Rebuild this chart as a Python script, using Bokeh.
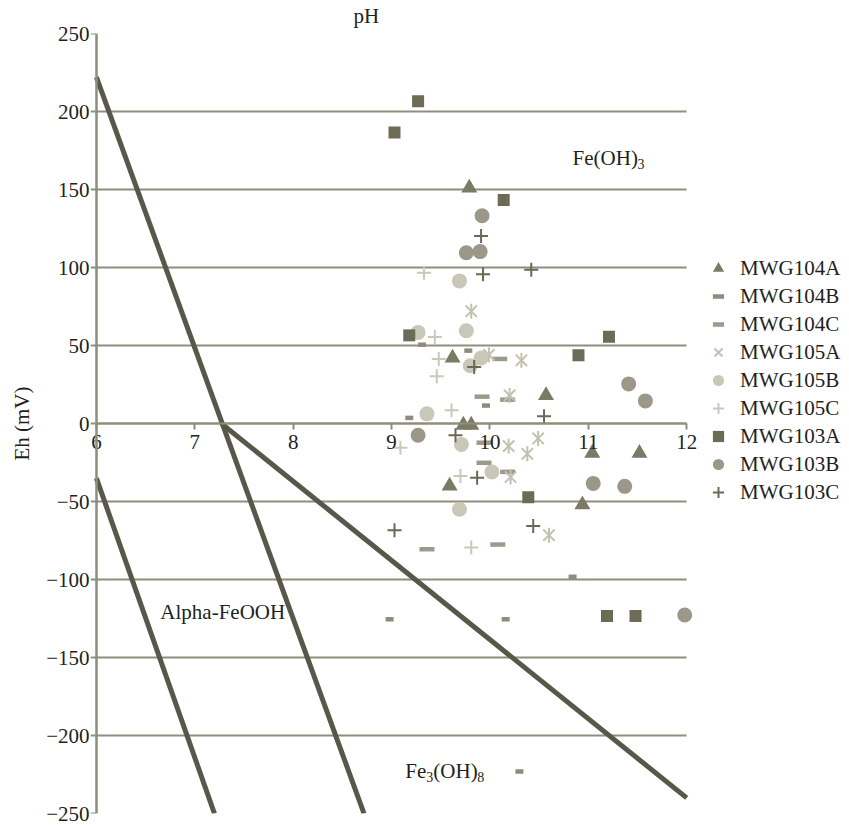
from bokeh.plotting import figure
from bokeh.models import (Range1d, LinearAxis, FixedTicker, CustomJSTickFormatter,
                          Legend, LegendItem)
from bokeh.core.properties import value
from bokeh.embed import file_html
from bokeh.resources import INLINE
import math

# ---------------- data ----------------
x_ticks = [6, 7, 8, 9, 10, 11, 12]
y_ticks = [-250, -200, -150, -100, -50, 0, 50, 100, 150, 200, 250]

# stability-field boundary lines (pH, Eh)
b1_ph = [6.0, 8.72]
b1_eh = [222, -250]
b2_ph = [7.27, 12.0]
b2_eh = [0, -240]
b3_ph = [6.0, 7.2]
b3_eh = [-35, -250]

mwg104a_ph = [9.79, 9.62, 10.57, 9.73, 9.81, 9.59, 10.94, 11.04, 11.52]
mwg104a_eh = [151, 42, 18, -1, -1, -40, -52, -19, -19]

mwg104b_ph = [9.18, 9.31, 9.78, 9.96, 8.98, 10.16, 10.84, 10.30]
mwg104b_eh = [3.6, 50.5, 46.7, 11.5, -125.5, -125.5, -98.3, -223]

mwg104c_ph = [10.10, 9.92, 10.18, 9.94, 9.94, 10.18, 9.36, 10.08]
mwg104c_eh = [41.4, 17.2, 15.3, -12.3, -25.2, -31, -80.6, -77.6]

mwg105a_ph = [9.81, 9.99, 10.32, 10.20, 10.19, 10.49, 10.38, 10.21, 10.60]
mwg105a_eh = [72, 44, 40.5, 18, -14.5, -9.6, -19.4, -34.3, -71.6]

mwg105b_ph = [9.69, 9.27, 9.76, 9.91, 9.80, 9.36, 9.71, 10.02, 9.69]
mwg105b_eh = [91.4, 58.4, 59.5, 42, 37, 6.2, -13.4, -31.1, -55]

mwg105c_ph = [9.33, 9.44, 9.48, 9.46, 9.61, 9.09, 9.70, 9.81]
mwg105c_eh = [96.7, 55.4, 41.4, 30.3, 8.5, -15.6, -33.7, -79.5]

mwg103a_ph = [9.03, 9.27, 10.14, 9.18, 10.90, 11.21, 10.39, 11.19, 11.48]
mwg103a_eh = [186.5, 206.5, 143.2, 56.5, 43.7, 55.6, -47.3, -123.4, -123.4]

mwg103b_ph = [9.92, 9.76, 9.90, 9.27, 11.05, 11.37, 11.98, 11.41, 11.58]
mwg103b_eh = [133.2, 109.5, 110.2, -7.5, -38.4, -40.3, -122.8, 25.4, 14.5]

mwg103c_ph = [9.91, 9.93, 10.42, 9.84, 10.55, 9.65, 9.87, 9.03, 10.44]
mwg103c_eh = [120.2, 95.7, 98.5, 36.2, 4.7, -7.5, -34.7, -68.4, -65.7]

# field labels
lab_x = [10.84, 6.65, 9.14, 9.14]
lab_y = [170, -121, -223, -223]
lab_text = ["Fe(OH)", "Alpha-FeOOH", "Fe", "(OH)"]
sub_x = [10.84, 9.14, 9.14]
sub_y = [170, -223, -223]
sub_text = ["3", "3", "8"]

# ---------------- styling ----------------
FONT = "Liberation Serif"
TXT = "#231f20"
GRID = "#8f8d7b"
LINE = "#58584a"
FS = "21px"

# view extent: a little room beyond pH 6..12 so the end tick labels are not clipped
p = figure(frame_width=608, frame_height=780,
           x_range=Range1d(5.94, 12.12), y_range=Range1d(-250, 250),
           x_axis_location=None, y_axis_location="left",
           output_backend="svg", toolbar_location=None,
           min_border_left=90, min_border_right=151,
           min_border_top=33, min_border_bottom=12,
           title="pH")
p.outline_line_color = None
p.background_fill_color = "white"
p.border_fill_color = "white"

p.title.text_font = FONT
p.title.text_font_size = FS
p.title.text_font_style = "normal"
p.title.text_color = TXT
p.title.align = "left"
p.title.offset = 263
p.title.standoff = 7
p.title.vertical_align = "top"

# y axis tick labels (at the frame edge)
ya = p.yaxis[0]
ya.ticker = FixedTicker(ticks=y_ticks)
ya.formatter = CustomJSTickFormatter(code="return tick < 0 ? '\\u2212' + Math.abs(tick) : String(tick);")
ya.axis_label = "Eh (mV)"
ya.axis_label_text_font = FONT
ya.axis_label_text_font_size = FS
ya.axis_label_text_font_style = "normal"
ya.axis_label_text_color = TXT
ya.axis_label_standoff = 9
ya.major_label_text_font = FONT
ya.major_label_text_font_size = FS
ya.major_label_text_color = TXT
ya.major_label_standoff = 1
ya.major_tick_out = 0
ya.major_tick_in = 0
ya.minor_tick_out = 0
ya.minor_tick_in = 0
ya.axis_line_color = None
ya.major_tick_line_color = None

# y axis line at pH 6 with outward ticks
ya2 = LinearAxis(fixed_location=x_ticks[0], ticker=FixedTicker(ticks=y_ticks),
                 formatter=CustomJSTickFormatter(code="return '';"))
ya2.major_tick_out = 6
ya2.major_tick_in = 0
ya2.minor_tick_out = 0
ya2.minor_tick_in = 0
ya2.axis_line_color = GRID
ya2.axis_line_width = 2.5
ya2.major_tick_line_color = GRID
ya2.major_tick_line_width = 2
p.add_layout(ya2, "left")

# x axis crossing at Eh = 0
xa = LinearAxis(fixed_location=0, ticker=FixedTicker(ticks=x_ticks),
                bounds=(x_ticks[0], x_ticks[-1]))
xa.major_label_text_font = FONT
xa.major_label_text_font_size = FS
xa.major_label_text_color = TXT
xa.major_label_standoff = 5
xa.major_tick_out = 6
xa.major_tick_in = 0
xa.minor_tick_out = 0
xa.minor_tick_in = 0
xa.axis_line_color = GRID
xa.axis_line_width = 2
xa.major_tick_line_color = GRID
xa.major_tick_line_width = 2
p.add_layout(xa, "below")

p.xgrid.visible = False
yg = p.ygrid[0]
yg.ticker = FixedTicker(ticks=y_ticks)
yg.grid_line_color = GRID
yg.grid_line_width = 2
try:
    yg.cross_bounds = (x_ticks[0], x_ticks[-1])
except Exception:
    pass

# boundary lines
for bx, by in ((b1_ph, b1_eh), (b2_ph, b2_eh), (b3_ph, b3_eh)):
    p.line(bx, by, line_color=LINE, line_width=5)

# series
r104a = p.scatter(mwg104a_ph, mwg104a_eh, marker="triangle", size=16,
                  fill_color="#7b7a65", line_color=None)
r104b = p.scatter(mwg104b_ph, mwg104b_eh, marker="dash", size=8,
                  line_color="#8f8c7f", line_width=4.5)
r104c = p.scatter(mwg104c_ph, mwg104c_eh, marker="dash", size=15,
                  line_color="#9d9a8c", line_width=4.5)
r105a = p.scatter(mwg105a_ph, mwg105a_eh, marker="x", size=16,
                  line_color="#c3c1b1", line_width=2)
r105a_v = p.scatter(mwg105a_ph, mwg105a_eh, marker="dash", size=15, angle=math.pi / 2,
                    line_color="#c3c1b1", line_width=2)
r105b = p.scatter(mwg105b_ph, mwg105b_eh, marker="circle", size=15,
                  fill_color="#c8c7b8", line_color=None)
r105c = p.scatter(mwg105c_ph, mwg105c_eh, marker="cross", size=14,
                  line_color="#cac8ba", line_width=2)
r103a = p.scatter(mwg103a_ph, mwg103a_eh, marker="square", size=12,
                  fill_color="#6c6b56", line_color=None)
r103b = p.scatter(mwg103b_ph, mwg103b_eh, marker="circle", size=15,
                  fill_color="#9b988a", line_color=None)
r103c = p.scatter(mwg103c_ph, mwg103c_eh, marker="cross", size=14,
                  line_color="#6a6955", line_width=2)

# field labels
p.text(x=lab_x, y=lab_y, text=lab_text, x_offset=[0, 0, 0, 28],
       text_font=value(FONT), text_font_size=FS, text_color=TXT,
       text_baseline="middle", text_align="left")
p.text(x=sub_x, y=sub_y, text=sub_text, x_offset=[65, 21, 72], y_offset=6,
       text_font=value(FONT), text_font_size="14px", text_color=TXT,
       text_baseline="middle", text_align="left")

legend = Legend(items=[
    LegendItem(label="MWG104A", renderers=[r104a]),
    LegendItem(label="MWG104B", renderers=[r104b]),
    LegendItem(label="MWG104C", renderers=[r104c]),
    LegendItem(label="MWG105A", renderers=[r105a]),
    LegendItem(label="MWG105B", renderers=[r105b]),
    LegendItem(label="MWG105C", renderers=[r105c]),
    LegendItem(label="MWG103A", renderers=[r103a]),
    LegendItem(label="MWG103B", renderers=[r103b]),
    LegendItem(label="MWG103C", renderers=[r103c]),
], location=(6, 307))
legend.glyph_width = 28
legend.glyph_height = 28
legend.label_height = 28
legend.spacing = 0
legend.padding = 0
legend.margin = 0
legend.label_standoff = 8
legend.label_text_font = FONT
legend.label_text_font_size = FS
legend.label_text_color = TXT
legend.border_line_color = None
legend.background_fill_alpha = 0
p.add_layout(legend, "right")

open("out.html", "w").write(file_html(p, INLINE))
